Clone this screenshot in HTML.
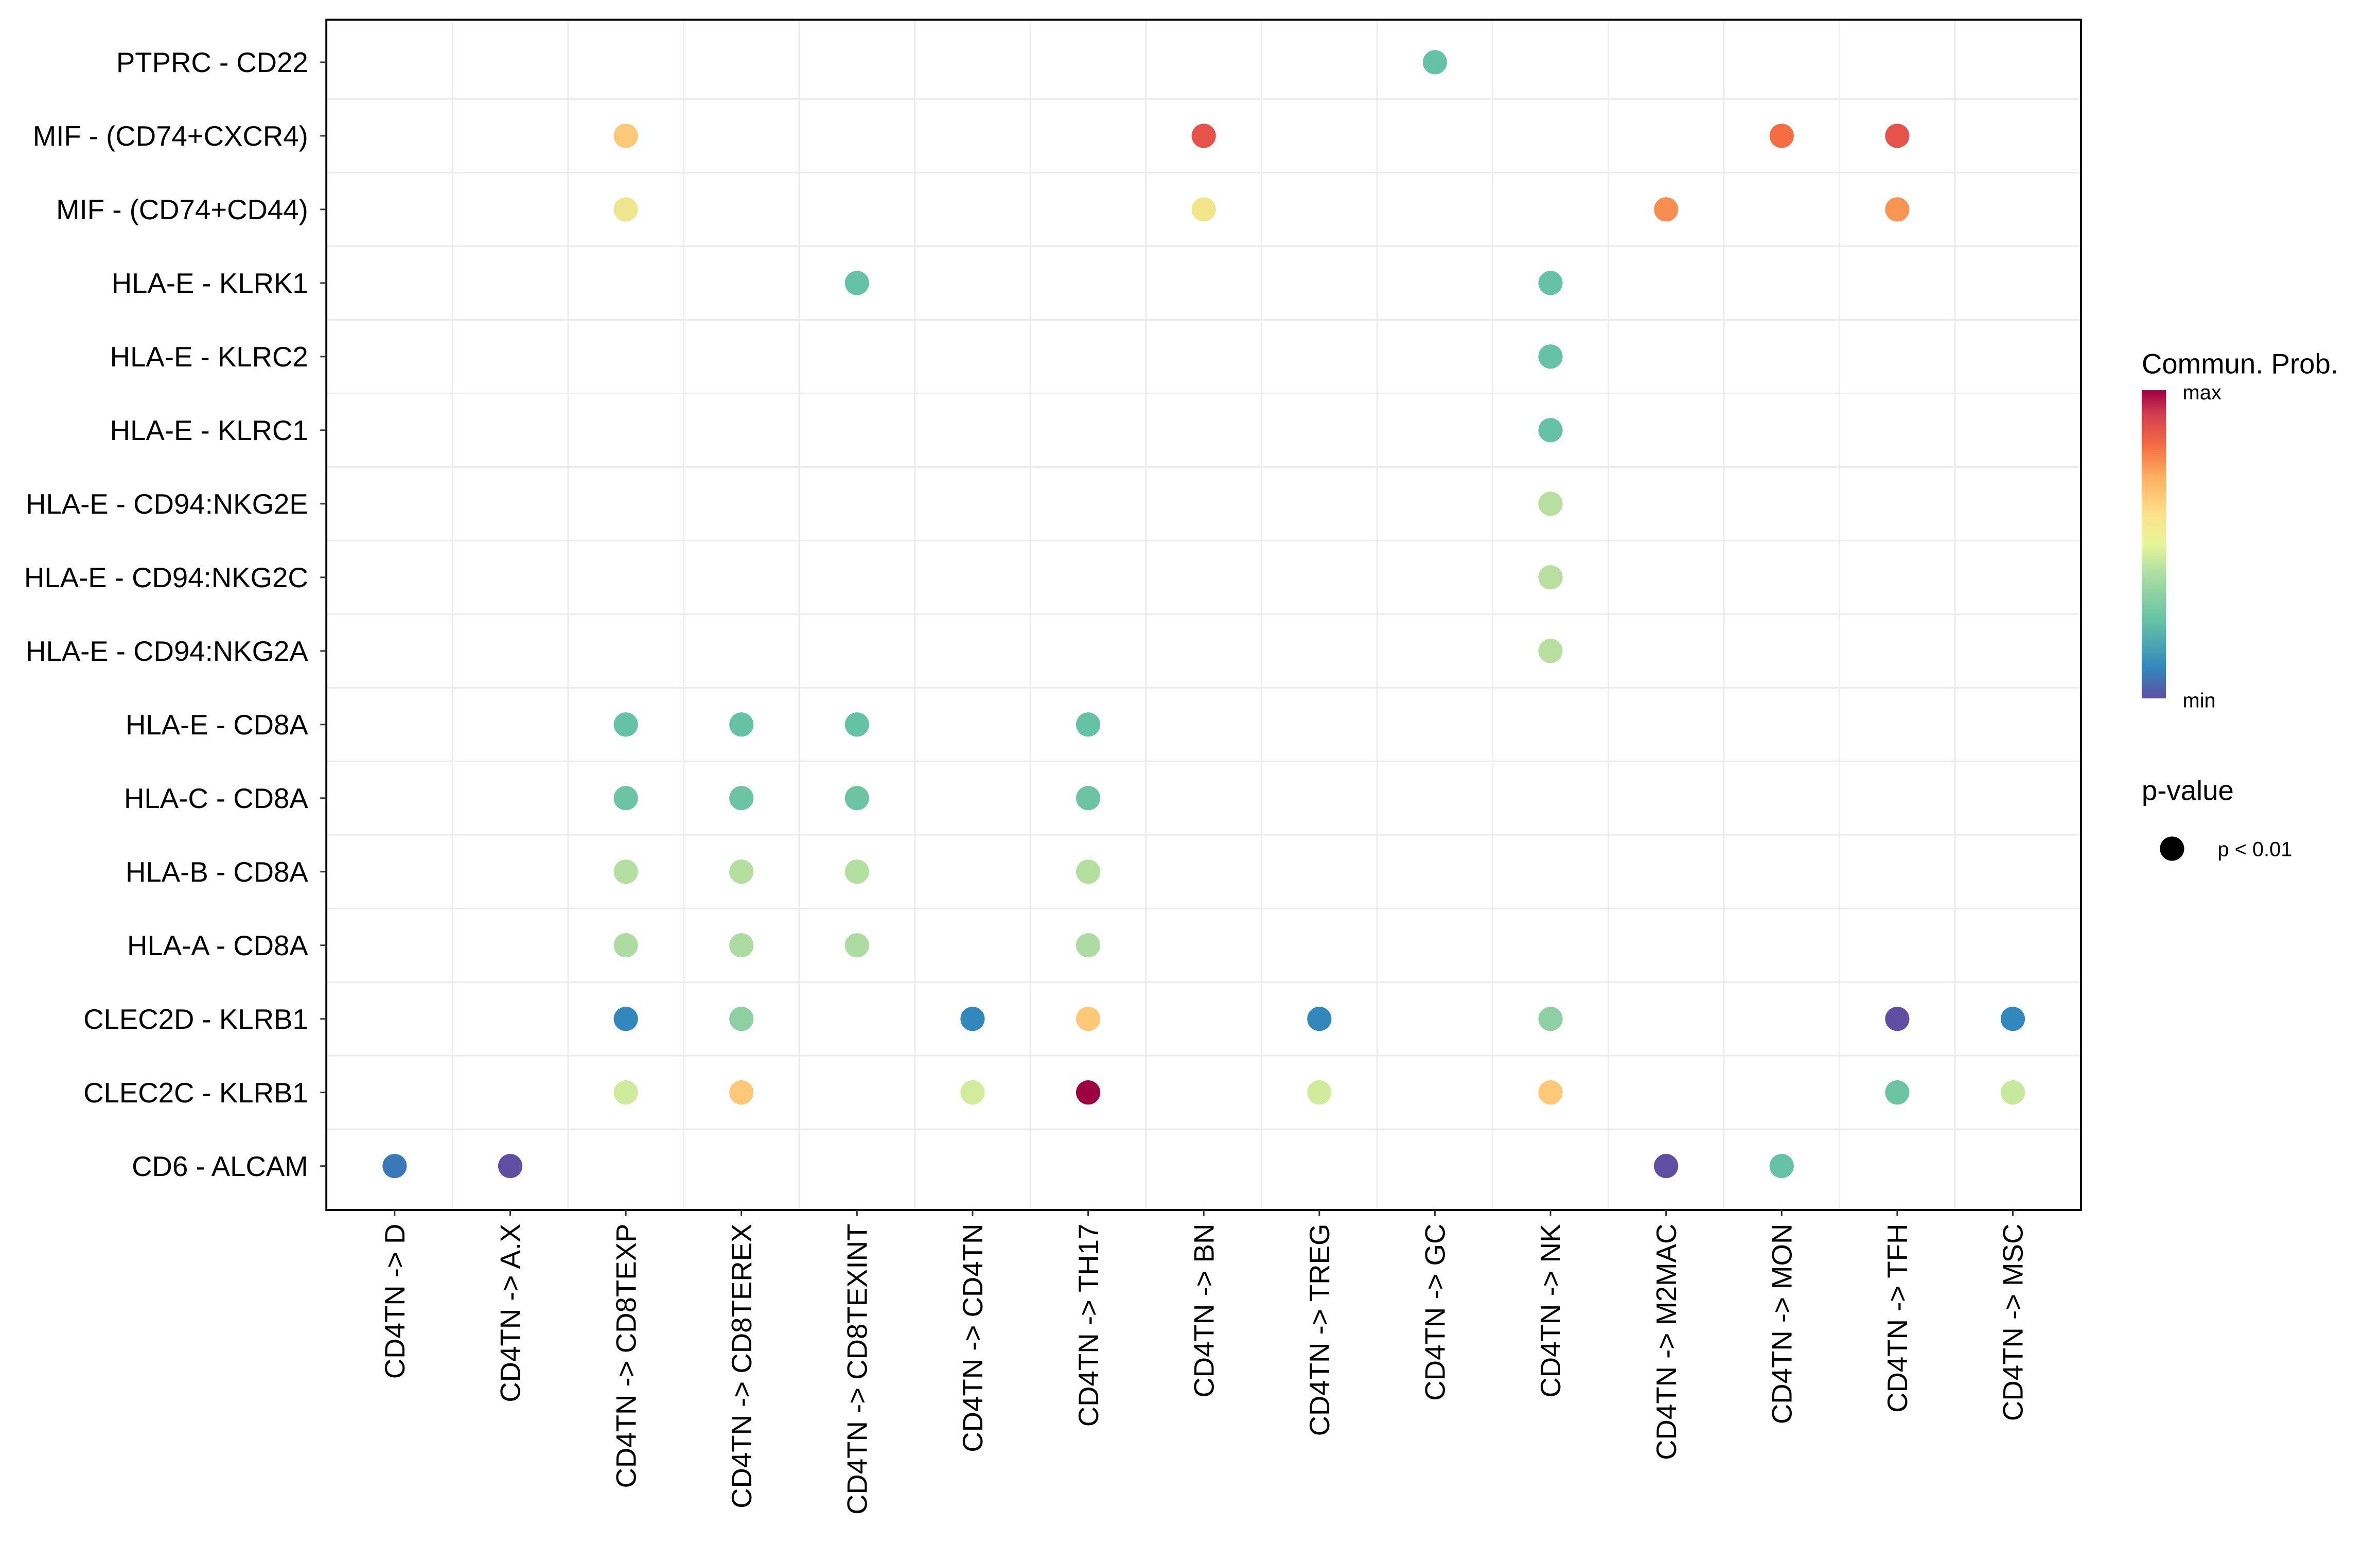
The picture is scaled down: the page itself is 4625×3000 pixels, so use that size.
<!DOCTYPE html>
<html><head><meta charset="utf-8"><style>html,body{margin:0;padding:0;background:#fff}svg{display:block}</style></head>
<body>
<svg xmlns="http://www.w3.org/2000/svg" width="4625" height="3000" viewBox="0 0 1568 1017" preserveAspectRatio="none" font-family="Liberation Sans, Arial, sans-serif">
<defs>
<linearGradient id="g" x1="0" y1="1" x2="0" y2="0">
<stop offset="0" stop-color="#5E4FA2"/><stop offset="0.1" stop-color="#3288BD"/><stop offset="0.25" stop-color="#66C2A5"/><stop offset="0.4" stop-color="#ABDDA4"/><stop offset="0.5" stop-color="#E6F598"/><stop offset="0.6" stop-color="#FEE08B"/><stop offset="0.72" stop-color="#FDAE61"/><stop offset="0.82" stop-color="#F46D43"/><stop offset="0.92" stop-color="#D53E4F"/><stop offset="1" stop-color="#9E0142"/>
</linearGradient>
</defs>
<rect width="1568" height="1017" fill="#fff"/>
<g id="grid" stroke="#ebebeb" stroke-width="1"></g>
<rect x="215" y="13" width="1156" height="784" fill="none" stroke="#000" stroke-width="1.3"/>
<g id="ticks" stroke="#333" stroke-width="1"></g>
<g id="ylab" font-size="18.5" text-anchor="end" fill="#000"></g>
<g id="xlab" font-size="18.5" text-anchor="end" fill="#000"></g>
<g id="dots"></g>
<text x="1411" y="246" font-size="18.5">Commun. Prob.</text>
<rect x="1411" y="257" width="16" height="203" fill="url(#g)"/>
<text x="1438" y="263" font-size="13.5">max</text>
<text x="1438" y="466" font-size="13.5">min</text>
<text x="1411" y="527" font-size="18.5">p-value</text>
<circle cx="1431" cy="559" r="8" fill="#000"/>
<text x="1461" y="564" font-size="13.5">p &lt; 0.01</text>
<script>
var ns="http://www.w3.org/2000/svg";
function el(p,t,a,txt){var e=document.createElementNS(ns,t);for(var k in a)e.setAttribute(k,a[k]);if(txt)e.textContent=txt;document.getElementById(p).appendChild(e);}
var cx=function(i){return 260+i*76.15}, cy=function(j){return 41+j*48.47};
var rows=["PTPRC - CD22","MIF - (CD74+CXCR4)","MIF - (CD74+CD44)","HLA-E - KLRK1","HLA-E - KLRC2","HLA-E - KLRC1","HLA-E - CD94:NKG2E","HLA-E - CD94:NKG2C","HLA-E - CD94:NKG2A","HLA-E - CD8A","HLA-C - CD8A","HLA-B - CD8A","HLA-A - CD8A","CLEC2D - KLRB1","CLEC2C - KLRB1","CD6 - ALCAM"];
var cols=["D","A.X","CD8TEXP","CD8TEREX","CD8TEXINT","CD4TN","TH17","BN","TREG","GC","NK","M2MAC","MON","TFH","MSC"];
for(var i=0;i<14;i++){var x=cx(i)+38.07;el("grid","line",{x1:x,x2:x,y1:13,y2:797});}
for(var j=0;j<15;j++){var y=cy(j)+24.23;el("grid","line",{x1:215,x2:1371,y1:y,y2:y});}
rows.forEach(function(r,j){el("ylab","text",{x:203,y:cy(j)+6.5},r);el("ticks","line",{x1:211,x2:215,y1:cy(j),y2:cy(j)});});
cols.forEach(function(c,i){var x=cx(i)+6.5;el("xlab","text",{x:x,y:806,transform:"rotate(-90 "+x+" 806)"},"CD4TN -> "+c);el("ticks","line",{x1:cx(i),x2:cx(i),y1:797,y2:801});});
var T="#66C2A5";
var d=[[0,9,T],[1,2,"#FDC877"],[1,7,"#E5534B"],[1,12,"#F46D43"],[1,13,"#E5534B"],
[2,2,"#EEE68E"],[2,7,"#F3E68A"],[2,11,"#F88D52"],[2,13,"#F99553"],
[3,4,T],[3,10,T],[4,10,T],[5,10,T],[6,10,"#B8DFA0"],[7,10,"#B8DFA0"],[8,10,"#B8DFA0"]];
[2,3,4,6].forEach(function(c){d.push([9,c,T]);d.push([10,c,"#6DC4A4"]);d.push([11,c,"#B5DFA0"]);d.push([12,c,"#ADDBA2"]);});
d=d.concat([[13,2,"#3288BD"],[13,3,"#8ED0A4"],[13,5,"#3288BD"],[13,6,"#FDC877"],[13,8,"#3288BD"],[13,10,"#8ED0A4"],[13,13,"#5E4FA2"],[13,14,"#3288BD"],
[14,2,"#CFEB9C"],[14,3,"#FDC877"],[14,5,"#D2EC9B"],[14,6,"#9E0142"],[14,8,"#CFEB9C"],[14,10,"#FDC877"],[14,13,"#6DC4A4"],[14,14,"#C8E89E"],
[15,0,"#3A78B8"],[15,1,"#5E4FA2"],[15,11,"#5E4FA2"],[15,12,"#66C2A5"]]);
d.forEach(function(p){el("dots","circle",{cx:cx(p[1]),cy:cy(p[0]),r:8,fill:p[2]});});
</script>
</svg>
</body></html>
